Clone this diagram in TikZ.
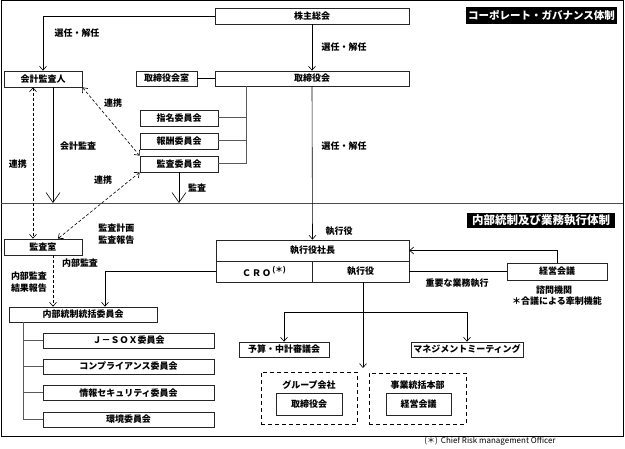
\documentclass[tikz,border=0pt]{standalone}
\usepackage{fontspec}
\setmainfont{Noto Sans CJK JP}
\usetikzlibrary{arrows.meta}

\tikzset{
  box/.style={draw=black!85, line width=0.7pt, inner sep=0pt, minimum height=16pt,
    font=\fontsize{9}{10}\selectfont\bfseries},
  lbl/.style={inner sep=0pt, font=\fontsize{9}{10}\selectfont\bfseries},
  heading/.style={fill=black, text=white, inner sep=0pt},
  link/.style={dash pattern=on 3pt off 2pt},
  grp/.style={draw, line width=0.7pt, dash pattern=on 4pt off 3pt, inner sep=0pt},
  bracket/.style={draw=black!65, line width=1pt},
  bigarr/.style={-{Straight Barb[length=10pt,width=14pt]}},
}

\begin{document}
\begin{tikzpicture}[x=1pt,y=-1pt,line width=0.6pt,>={Straight Barb[length=4pt,width=7pt]}]
        \useasboundingbox (0,0) rectangle (625,449);
        % Frames
        \draw[line width=1pt] (1,1) rectangle (623,437);
        \draw[line width=1.5pt,black!70] (1,203.5) -- (623,203.5);

        % Corporate governance
        \node[heading, minimum width=151pt, minimum height=17pt,
              font=\fontsize{10.5}{12}\selectfont\bfseries] (govtitle) at (541.5,15.5) {コーポレート・ガバナンス体制};
        \node[box, minimum width=194pt] (soukai) at (312,16) {株主総会};
        \node[box, minimum width=194pt, minimum height=15pt] (torikai) at (312,78.5) {取締役会};
        \node[box, minimum width=61pt, minimum height=15pt] (torishitsu) at (166.5,78.5) {取締役会室};
        \node[box, minimum width=78pt] (kaikei) at (43,79) {会計監査人};

        \foreach \n/\y/\t in {shimei/118/指名委員会, houshu/141/報酬委員会, kansaiin/164/監査委員会}
           {
                \node[box, minimum width=78pt] (\n) at (179,\y) {\t};
           }

        \draw[->] (soukai.west) -| (kaikei.north);
        \draw[->] (soukai.south) -- (torikai.north);
        \draw (torishitsu.east) -- (torikai.west);

        \coordinate (bk) at (246,164);
        \draw[bracket] (torikai.south -| bk) -- (bk) -- (kansaiin.east);
        \foreach \n in {shimei,houshu}
           {
                \draw[bracket] (\n.east) -- (\n.east -| bk);
           }

        \coordinate (sepA) at (53,203);
        \coordinate (sepB) at (179,203);
        \draw[bigarr] (kaikei.south -| sepA) -- (sepA);
        \draw[bigarr] (kansaiin.south) -- (sepB);

        \node[lbl] (l_sen1) at (77,33) {選任・解任};
        \node[lbl] (l_sen2) at (344,47) {選任・解任};
        \node[lbl] (l_sen3) at (344,146) {選任・解任};
        \node[lbl] (l_ren1) at (113,103) {連携};
        \node[lbl] (l_ren2) at (18,164) {連携};
        \node[lbl] (l_ren3) at (103,180) {連携};
        \node[lbl] (l_kaikei) at (78,146) {会計監査};
        \node[lbl] (l_kansa) at (197,188) {監査};

        % Internal control and execution
        \node[heading, minimum width=148pt, minimum height=15pt,
              font=\fontsize{11.5}{13}\selectfont\bfseries] (ictitle) at (541,220.5) {内部統制及び業務執行体制};
        \node[box, minimum width=78pt] (kansashitsu) at (43,247) {監査室};
        \node[box, minimum width=148pt, minimum height=15pt] (naibu) at (83,314.5) {内部統制統括委員会};

        \foreach \n/\y/\t in {jsox/340.5/Ｊ－ＳＯＸ委員会, compl/366.5/コンプライアンス委員会,
                              joho/393/情報セキュリティ委員会, kankyo/419.5/環境委員会}
           {
                \node[box, minimum width=171pt, minimum height=15pt] (\n) at (128.5,\y) {\t};
           }

        \coordinate (nk) at (23,419.5);
        \draw[bracket] (naibu.south -| nk) -- (nk) -- (kankyo.west);
        \foreach \n in {jsox,compl,joho}
           {
                \draw[bracket] (\n.west -| nk) -- (\n.west);
           }

        \node[box, minimum width=193pt, minimum height=21pt] (shachou) at (312.5,250.5) {執行役社長};
        \node[box, minimum width=96pt, minimum height=21pt] (cro) at (264,271.5)
              {Ｃ\kern1ptＲ\kern1ptＯ\raisebox{3.5pt}{\fontsize{7.5}{8}\selectfont\,(＊)}};
        \node[box, minimum width=97pt, minimum height=21pt] (shikkou) at (360.5,271.5) {執行役};
        \node[box, minimum width=100pt, minimum height=17pt] (keiei) at (557,271.5) {経営会議};
        \node[box, minimum width=90pt, minimum height=15pt] (yosan) at (284,349.5) {予算・中計審議会};
        \node[box, minimum width=112pt, minimum height=15pt] (mgmt) at (467,349.5) {マネジメントミーティング};

        \node[grp, minimum width=96pt, minimum height=52pt] (grpco) at (309,398) {};
        \node[lbl] (grpcot) at (309,385) {グループ会社};
        \node[box, minimum width=66pt, minimum height=22pt] (grpbd) at (309,404) {取締役会};
        \node[grp, minimum width=97pt, minimum height=51pt] (jigyo) at (417.5,398.5) {};
        \node[lbl] (jigyot) at (417.5,385) {事業統括本部};
        \node[box, minimum width=65pt, minimum height=22pt] (jigyobd) at (418.5,404) {経営会議};

        \draw[->] (torikai.south) -- (shachou.north);
        \draw[link,<->] (kaikei.south east) -- (kansaiin.north west);
        \draw[link,<->] ([xshift=-10pt]kaikei.south) -- ([xshift=-10pt]kansashitsu.north);
        \draw[link,<->] (kansaiin.south west) -- ([xshift=15pt]kansashitsu.north);
        \draw[link,->] ([xshift=10pt]kansashitsu.south) -- ([xshift=10pt]kansashitsu.south |- naibu.north);
        \draw[->] (cro.west) -| ([xshift=22pt]naibu.north);
        \draw[->] (keiei.north) |- (shachou.east);
        \draw (keiei.west) -- (shikkou.east);

        \coordinate (grpin) at (363,368);
        \coordinate (br) at (363,312);
        \draw[->] (shikkou.south -| grpin) -- (grpin);
        \draw[->] (br) -| (yosan.north);
        \draw[->] (br) -| (mgmt.north);

        \node[lbl] (l_shikkou) at (339,231) {執行役};
        \node[lbl, align=left, anchor=west] (l_keikaku) at (98,234) {監査計画\\[2pt]監査報告};
        \node[lbl] (l_naibu) at (80,263) {内部監査};
        \node[lbl, align=center] (l_kekka) at (29,282.5) {内部監査\\[2pt]結果報告};
        \node[lbl] (l_juyo) at (457,283) {重要な業務執行};
        \node[lbl] (l_shimon) at (554,290) {諮問機関};
        \node[lbl] (l_gougi) at (557,301) {＊合議による牽制機能};

        \node[inner sep=0pt, font=\fontsize{8}{9}\selectfont] (footnote) at (490,441) {(＊)\, Chief Risk management Officer};
\end{tikzpicture}
\end{document}
